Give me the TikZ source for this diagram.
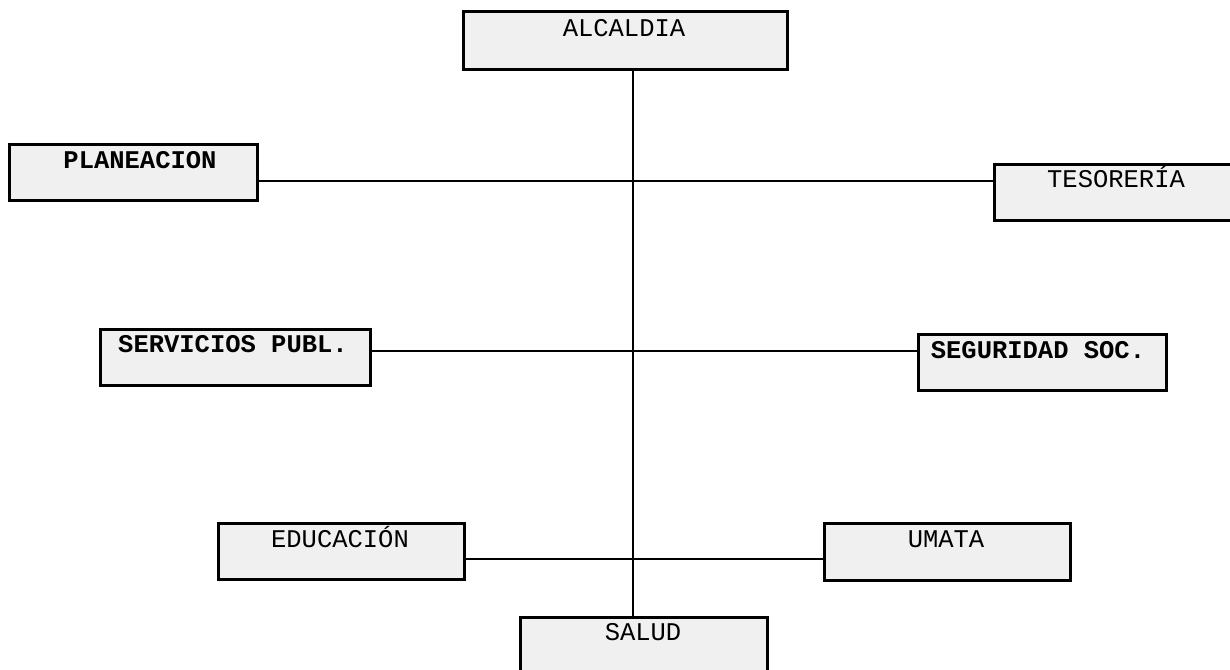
\documentclass[tikz,border=0pt]{standalone}
\usepackage{fontspec}
\setmonofont{Liberation Mono}
\begin{document}
\begin{tikzpicture}[x=1pt,y=-1pt,
  box/.style={draw=black,line width=2.6pt,fill=boxfill,minimum width=#1,inner sep=0pt,minimum height=56pt,anchor=north west},
  lbl/.style={font=\ttfamily\fontsize{25.5}{26}\selectfont,anchor=base,inner sep=0pt},
  blbl/.style={font=\ttfamily\bfseries\fontsize{25.5}{26}\selectfont,anchor=base,inner sep=0pt},
  conn/.style={line width=2.6pt,draw=black}]
\definecolor{boxfill}{HTML}{F0F0F0}
\useasboundingbox (0,0) rectangle (1230,669);
\clip (0,0) rectangle (1230,669);
% boxes
\node[box=324pt,minimum height=58pt] (alc) at (462,10) {};
\node[box=248pt] (pla) at (8,143) {};
\node[box=240pt] (tes) at (993,163) {};
\node[box=270pt] (ser) at (99,328) {};
\node[box=248pt] (seg) at (917,333) {};
\node[box=246pt] (edu) at (217,522) {};
\node[box=246pt,minimum height=57pt] (uma) at (823,522) {};
\node[box=247pt,minimum height=80pt] (sal) at (519,616) {};
% labels
\node[lbl] (talc) at (624,37) {ALCALDIA};
\node[blbl] (tpla) at (140,168) {PLANEACION};
\node[lbl] (ttes) at (1116,187) {TESORERÍA};
\node[blbl] (tser) at (233,352) {SERVICIOS PUBL.};
\node[blbl] (tseg) at (1038,358) {SEGURIDAD SOC.};
\node[lbl] (tedu) at (340,547) {EDUCACIÓN};
\node[lbl] (tuma) at (946,547) {UMATA};
\node[lbl] (tsal) at (643,640) {SALUD};
% junctions
\coordinate (j0) at (633,68);
\coordinate (j1) at (633,181);
\coordinate (j2) at (633,351);
\coordinate (j3) at (633,559);
% connectors
\draw[conn] (alc.south -| j0) -- (sal.north -| j0);
\draw[conn] (pla.east |- j1) -- (tes.west |- j1);
\draw[conn] (ser.east |- j2) -- (seg.west |- j2);
\draw[conn] (edu.east |- j3) -- (uma.west |- j3);
\end{tikzpicture}
\end{document}
